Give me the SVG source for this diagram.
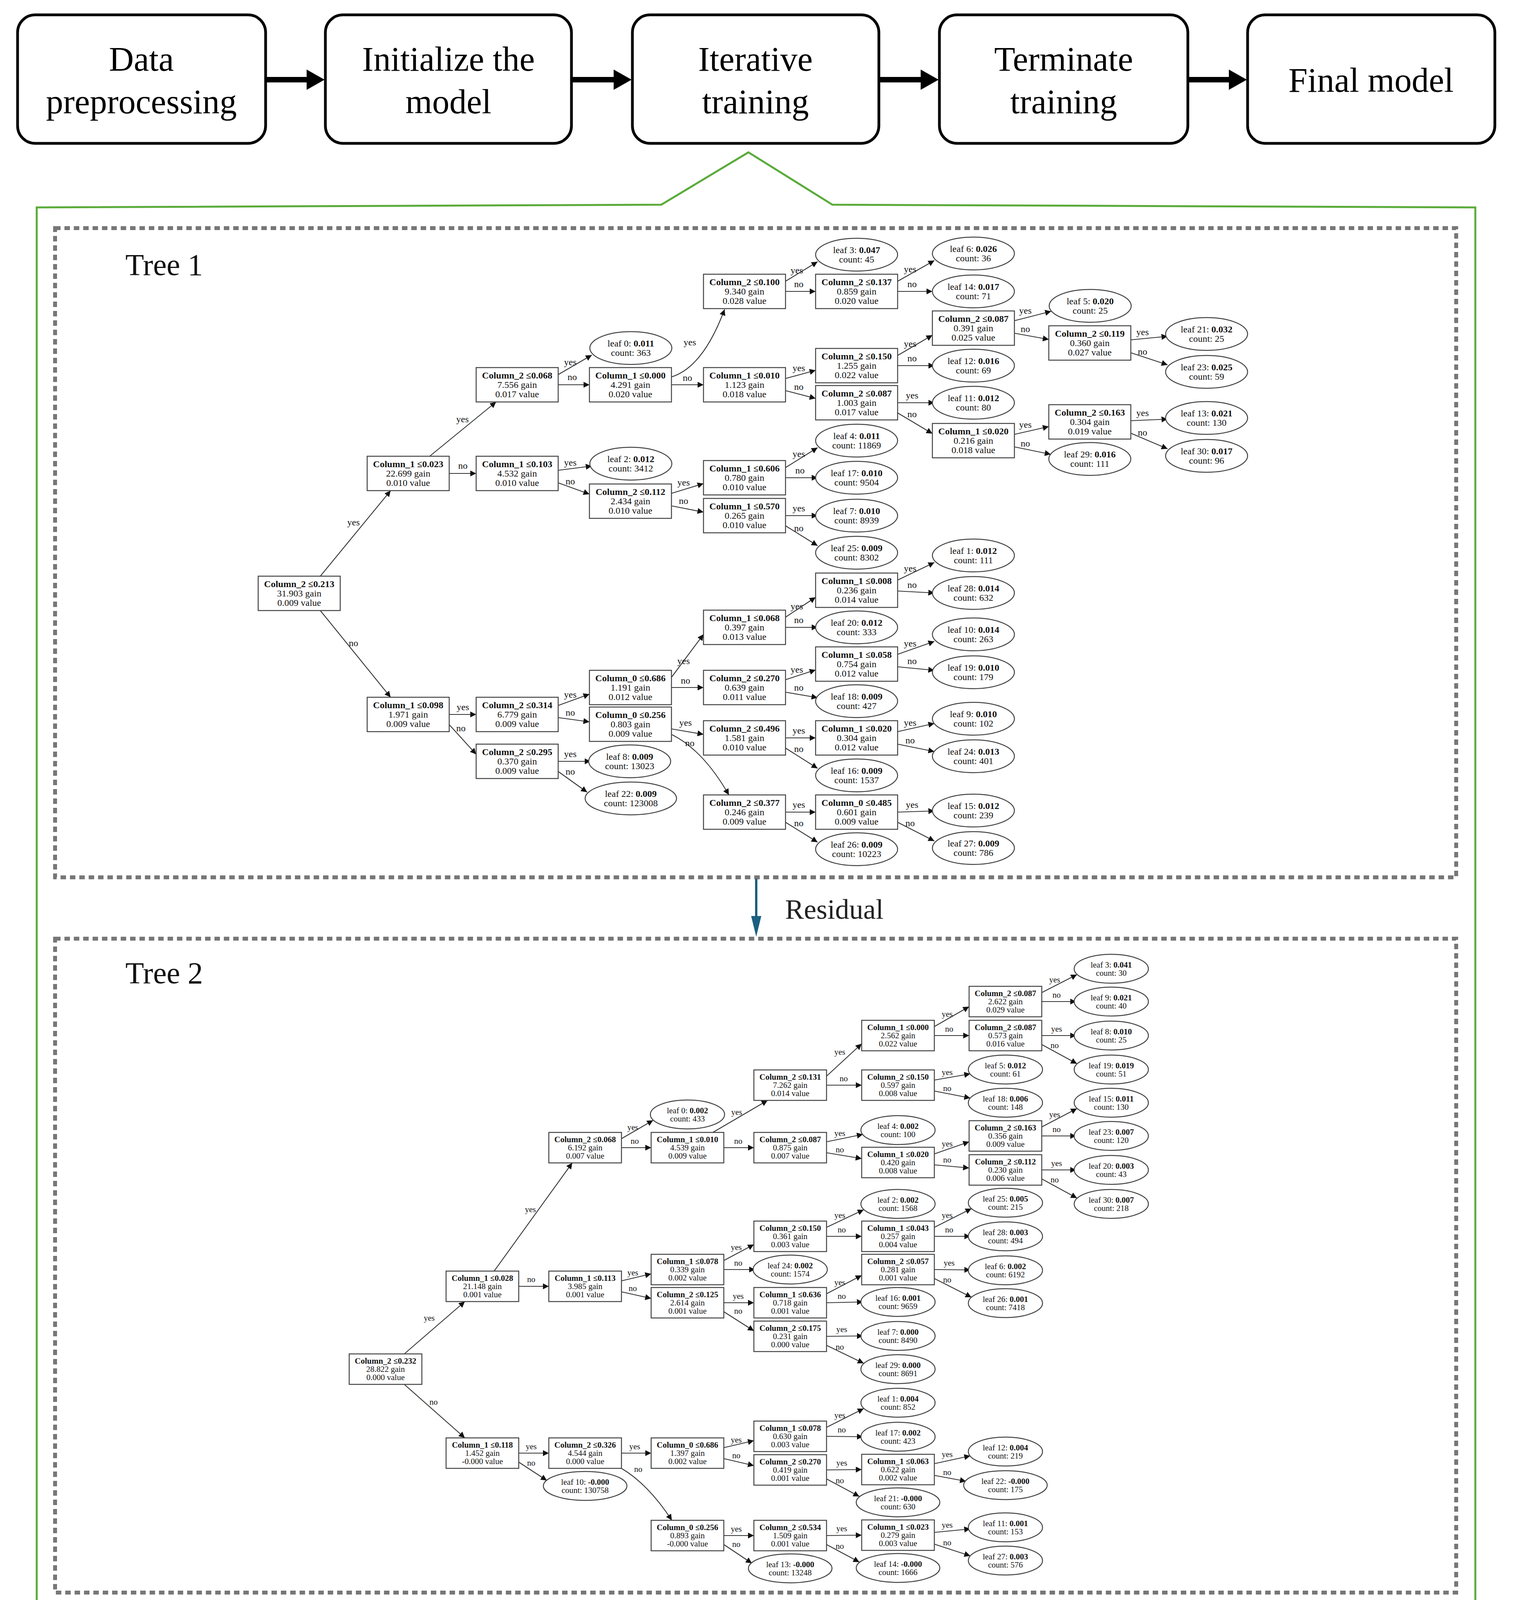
<svg xmlns="http://www.w3.org/2000/svg" xmlns:xlink="http://www.w3.org/1999/xlink" width="3876" height="6097" viewBox="0 0 3876 6097">
<style>
text{font-family:"Liberation Serif","Times New Roman",serif;text-anchor:middle;fill:#111}
.hd text{font-size:88px;fill:#000}
.ttl{font-size:78px;text-anchor:start}
.T1 text{font-size:24px}
.T2 text{font-size:21px}
.T3 text{font-size:26px}
.bd{font-weight:bold}
.hbox{fill:#fff;stroke:#000;stroke-width:7}
.dash{fill:none;stroke:#777;stroke-width:10;stroke-dasharray:14 10}
.cn path{fill:none;stroke:#333;stroke-width:2.2;marker-end:url(#ah)}
.nd{fill:#fff;stroke:#444;stroke-width:2.5}
</style>
<defs>
<marker id="ah" viewBox="0 0 10 10" refX="10" refY="5" markerWidth="7" markerHeight="7" orient="auto" markerUnits="strokeWidth"><path d="M0 0 L10 5 L0 10 Z" fill="#111"/></marker>
<rect id="B1" class="nd" x="-105" y="-44" width="210" height="88"/>
<ellipse id="E1" class="nd" rx="105" ry="42"/>
<ellipse id="E1w" class="nd" rx="117" ry="42"/>
<rect id="B2" class="nd" x="-93" y="-39" width="186" height="78"/>
<ellipse id="E2" class="nd" rx="95" ry="37"/>
<ellipse id="E2w" class="nd" rx="107" ry="37"/>
<rect id="B3" class="nd" x="-114" y="-48" width="228" height="96"/>
<ellipse id="E3" class="nd" rx="122" ry="48"/>
<ellipse id="E3w" class="nd" rx="128" ry="48"/>
</defs>
<rect width="3876" height="6097" fill="#fff"/>

<g class="hd">
<g id="h1"><rect class="hbox" x="45" y="38" width="635" height="329" rx="45"/><text x="362" y="181">Data</text><text x="362" y="290">preprocessing</text></g>
<g id="h2"><rect class="hbox" x="833" y="38" width="630" height="329" rx="45"/><text x="1148" y="181">Initialize the</text><text x="1148" y="290">model</text></g>
<g id="h3"><rect class="hbox" x="1619" y="38" width="631" height="329" rx="45"/><text x="1934" y="181">Iterative</text><text x="1934" y="290">training</text></g>
<g id="h4"><rect class="hbox" x="2405" y="38" width="636" height="329" rx="45"/><text x="2723" y="181">Terminate</text><text x="2723" y="290">training</text></g>
<g id="h5"><rect class="hbox" x="3194" y="38" width="633" height="329" rx="45"/><text x="3510" y="235">Final model</text></g>
</g>
<g id="harrows" fill="#000">
<path d="M683 197 H785 V178 L831 204 L785 230 V211 H683 Z"/>
<path d="M1466 197 H1571 V178 L1617 204 L1571 230 V211 H1466 Z"/>
<path d="M2253 197 H2357 V178 L2403 204 L2357 230 V211 H2253 Z"/>
<path d="M3044 197 H3146 V178 L3192 204 L3146 230 V211 H3044 Z"/>
</g>

<path id="callout" d="M94 531 L1693 524 L1916 390 L2131 524 L3777 531 L3777 6063 L94 6063 Z" fill="none" stroke="#5aab3a" stroke-width="5"/>

<rect class="dash" x="141" y="584" width="3587" height="1662"/>
<rect class="dash" x="141" y="2403" width="3587" height="1674"/>
<rect class="dash" x="141" y="4300" width="3587" height="1689"/>
<text class="ttl" x="321" y="704">Tree 1</text>
<text class="ttl" x="321" y="2517">Tree 2</text>
<text class="ttl" x="321" y="4415">Tree 1000</text>

<g id="residual">
<line x1="1936" y1="2250" x2="1936" y2="2348" stroke="#1c5f80" stroke-width="6"/>
<path d="M1923 2345 L1949 2345 L1936 2398 Z" fill="#1c5f80"/>
<text x="2010" y="2352" style="font-size:72px;text-anchor:start;fill:#222">Residual</text>
</g>
<g id="dots" fill="#000"><ellipse cx="1936" cy="4142" rx="7" ry="13"/><ellipse cx="1936" cy="4190" rx="7" ry="13"/><ellipse cx="1936" cy="4236" rx="7" ry="13"/></g>

<!-- TREE 1 connectors -->
<g id="t1-edges" class="cn T1">
<path d="M820 1475 L1000 1256"/><text x="905" y="1345">yes</text>
<path d="M820 1563 L1000 1785"/><text x="905" y="1654">no</text>
<path d="M1100 1168 L1270 1029"/><text x="1184" y="1081">yes</text>
<path d="M1150 1212 L1219 1212"/><text x="1185" y="1200">no</text>
<path d="M1429 959 L1515 909"/><text x="1460" y="935">yes</text>
<path d="M1429 985 L1509 985"/><text x="1465" y="973">no</text>
<path d="M1429 1204 L1515 1193"/><text x="1460" y="1192">yes</text>
<path d="M1429 1236 L1509 1265"/><text x="1460" y="1240">no</text>
<path d="M1719 965 Q1800 940 1855 792"/><text x="1766" y="884">yes</text>
<path d="M1719 985 L1801 985"/><text x="1760" y="975">no</text>
<path d="M1719 1263 L1801 1238"/><text x="1750" y="1243">yes</text>
<path d="M1719 1295 L1801 1311"/><text x="1750" y="1290">no</text>
<path d="M1150 1829 L1219 1829"/><text x="1185" y="1818">yes</text>
<path d="M1150 1855 L1219 1931"/><text x="1180" y="1872">no</text>
<path d="M1429 1806 L1509 1777"/><text x="1460" y="1786">yes</text>
<path d="M1429 1837 L1509 1848"/><text x="1460" y="1832">no</text>
<path d="M1429 1949 L1512 1949"/><text x="1460" y="1938">yes</text>
<path d="M1429 1975 L1503 2028"/><text x="1460" y="1983">no</text>
<path d="M2011 720 L2093 670"/><text x="2040" y="700">yes</text>
<path d="M2011 746 L2088 746"/><text x="2045" y="735">no</text>
<path d="M2011 969 L2088 948"/><text x="2045" y="950">yes</text>
<path d="M2011 1000 L2088 1020"/><text x="2045" y="998">no</text>
<path d="M2011 1197 L2093 1146"/><text x="2045" y="1170">yes</text>
<path d="M2011 1223 L2093 1223"/><text x="2048" y="1212">no</text>
<path d="M2011 1320 L2093 1320"/><text x="2045" y="1309">yes</text>
<path d="M2011 1346 L2093 1397"/><text x="2045" y="1360">no</text>
<path d="M1719 1734 L1801 1624"/><text x="1750" y="1700">yes</text>
<path d="M1719 1760 L1801 1760"/><text x="1755" y="1750">no</text>
<path d="M1719 1866 L1801 1880"/><text x="1755" y="1858">yes</text>
<path d="M1719 1880 Q1800 1920 1866 2035"/><text x="1766" y="1910">no</text>
<path d="M2298 720 L2392 667"/><text x="2330" y="697">yes</text>
<path d="M2298 746 L2387 746"/><text x="2335" y="735">no</text>
<path d="M2298 910 L2387 858"/><text x="2330" y="888">yes</text>
<path d="M2298 936 L2392 936"/><text x="2335" y="925">no</text>
<path d="M2298 1031 L2392 1031"/><text x="2335" y="1020">yes</text>
<path d="M2298 1057 L2387 1110"/><text x="2335" y="1068">no</text>
<path d="M2011 1580 L2088 1529"/><text x="2040" y="1560">yes</text>
<path d="M2011 1606 L2093 1606"/><text x="2045" y="1595">no</text>
<path d="M2011 1740 L2088 1715"/><text x="2040" y="1722">yes</text>
<path d="M2011 1772 L2093 1786"/><text x="2045" y="1768">no</text>
<path d="M2011 1889 L2088 1889"/><text x="2045" y="1878">yes</text>
<path d="M2011 1915 L2093 1967"/><text x="2045" y="1925">no</text>
<path d="M2011 2079 L2088 2079"/><text x="2045" y="2068">yes</text>
<path d="M2011 2105 L2093 2156"/><text x="2045" y="2115">no</text>
<path d="M2597 821 L2691 797"/><text x="2625" y="803">yes</text>
<path d="M2597 853 L2685 869"/><text x="2625" y="850">no</text>
<path d="M2597 1112 L2685 1092"/><text x="2625" y="1095">yes</text>
<path d="M2597 1144 L2690 1163"/><text x="2625" y="1143">no</text>
<path d="M2298 1485 L2392 1440"/><text x="2330" y="1463">yes</text>
<path d="M2298 1513 L2392 1518"/><text x="2335" y="1505">no</text>
<path d="M2298 1675 L2392 1642"/><text x="2330" y="1655">yes</text>
<path d="M2298 1707 L2392 1716"/><text x="2335" y="1700">no</text>
<path d="M2298 1873 L2392 1852"/><text x="2330" y="1858">yes</text>
<path d="M2298 1905 L2392 1924"/><text x="2330" y="1903">no</text>
<path d="M2298 2079 L2392 2076"/><text x="2335" y="2068">yes</text>
<path d="M2298 2105 L2392 2153"/><text x="2330" y="2115">no</text>
<path d="M2895 870 L2989 861"/><text x="2925" y="858">yes</text>
<path d="M2895 903 L2989 934"/><text x="2925" y="908">no</text>
<path d="M2895 1077 L2989 1073"/><text x="2925" y="1065">yes</text>
<path d="M2895 1109 L2989 1149"/><text x="2925" y="1115">no</text>
</g>

<!-- TREE 1 nodes -->
<g id="tree1" class="T1">
<g id="t1-r" transform="translate(766,1519)"><use href="#B1"/><text y="-16" class="bd">Column_2 ≤0.213</text><text y="8">31.903 gain</text><text y="32">0.009 value</text></g>
<g id="t1-a" transform="translate(1045,1212)"><use href="#B1"/><text y="-16" class="bd">Column_1 ≤0.023</text><text y="8">22.699 gain</text><text y="32">0.010 value</text></g>
<g id="t1-b" transform="translate(1324,985)"><use href="#B1"/><text y="-16" class="bd">Column_2 ≤0.068</text><text y="8">7.556 gain</text><text y="32">0.017 value</text></g>
<g id="t1-c" transform="translate(1614,985)"><use href="#B1"/><text y="-16" class="bd">Column_1 ≤0.000</text><text y="8">4.291 gain</text><text y="32">0.020 value</text></g>
<g id="t1-d" transform="translate(1324,1212)"><use href="#B1"/><text y="-16" class="bd">Column_1 ≤0.103</text><text y="8">4.532 gain</text><text y="32">0.010 value</text></g>
<g id="t1-e" transform="translate(1614,1283)"><use href="#B1"/><text y="-16" class="bd">Column_2 ≤0.112</text><text y="8">2.434 gain</text><text y="32">0.010 value</text></g>
<g id="t1-f" transform="translate(1045,1829)"><use href="#B1"/><text y="-16" class="bd">Column_1 ≤0.098</text><text y="8">1.971 gain</text><text y="32">0.009 value</text></g>
<g id="t1-g" transform="translate(1324,1829)"><use href="#B1"/><text y="-16" class="bd">Column_2 ≤0.314</text><text y="8">6.779 gain</text><text y="32">0.009 value</text></g>
<g id="t1-h" transform="translate(1324,1949)"><use href="#B1"/><text y="-16" class="bd">Column_2 ≤0.295</text><text y="8">0.370 gain</text><text y="32">0.009 value</text></g>
<g id="t1-i" transform="translate(1614,1760)"><use href="#B1"/><text y="-16" class="bd">Column_0 ≤0.686</text><text y="8">1.191 gain</text><text y="32">0.012 value</text></g>
<g id="t1-j" transform="translate(1614,1854)"><use href="#B1"/><text y="-16" class="bd">Column_0 ≤0.256</text><text y="8">0.803 gain</text><text y="32">0.009 value</text></g>
<g id="t1-k" transform="translate(1906,746)"><use href="#B1"/><text y="-16" class="bd">Column_2 ≤0.100</text><text y="8">9.340 gain</text><text y="32">0.028 value</text></g>
<g id="t1-l" transform="translate(2193,746)"><use href="#B1"/><text y="-16" class="bd">Column_2 ≤0.137</text><text y="8">0.859 gain</text><text y="32">0.020 value</text></g>
<g id="t1-m" transform="translate(2492,840)"><use href="#B1"/><text y="-16" class="bd">Column_2 ≤0.087</text><text y="8">0.391 gain</text><text y="32">0.025 value</text></g>
<g id="t1-n" transform="translate(1906,985)"><use href="#B1"/><text y="-16" class="bd">Column_1 ≤0.010</text><text y="8">1.123 gain</text><text y="32">0.018 value</text></g>
<g id="t1-o" transform="translate(2193,936)"><use href="#B1"/><text y="-16" class="bd">Column_2 ≤0.150</text><text y="8">1.255 gain</text><text y="32">0.022 value</text></g>
<g id="t1-p" transform="translate(2193,1031)"><use href="#B1"/><text y="-16" class="bd">Column_2 ≤0.087</text><text y="8">1.003 gain</text><text y="32">0.017 value</text></g>
<g id="t1-q" transform="translate(2492,1128)"><use href="#B1"/><text y="-16" class="bd">Column_1 ≤0.020</text><text y="8">0.216 gain</text><text y="32">0.018 value</text></g>
<g id="t1-s" transform="translate(1906,1223)"><use href="#B1"/><text y="-16" class="bd">Column_1 ≤0.606</text><text y="8">0.780 gain</text><text y="32">0.010 value</text></g>
<g id="t1-t" transform="translate(1906,1320)"><use href="#B1"/><text y="-16" class="bd">Column_1 ≤0.570</text><text y="8">0.265 gain</text><text y="32">0.010 value</text></g>
<g id="t1-u" transform="translate(2193,1511)"><use href="#B1"/><text y="-16" class="bd">Column_1 ≤0.008</text><text y="8">0.236 gain</text><text y="32">0.014 value</text></g>
<g id="t1-v" transform="translate(1906,1606)"><use href="#B1"/><text y="-16" class="bd">Column_1 ≤0.068</text><text y="8">0.397 gain</text><text y="32">0.013 value</text></g>
<g id="t1-w" transform="translate(2193,1700)"><use href="#B1"/><text y="-16" class="bd">Column_1 ≤0.058</text><text y="8">0.754 gain</text><text y="32">0.012 value</text></g>
<g id="t1-x" transform="translate(1906,1760)"><use href="#B1"/><text y="-16" class="bd">Column_2 ≤0.270</text><text y="8">0.639 gain</text><text y="32">0.011 value</text></g>
<g id="t1-y" transform="translate(1906,1889)"><use href="#B1"/><text y="-16" class="bd">Column_2 ≤0.496</text><text y="8">1.581 gain</text><text y="32">0.010 value</text></g>
<g id="t1-z" transform="translate(2193,1889)"><use href="#B1"/><text y="-16" class="bd">Column_1 ≤0.020</text><text y="8">0.304 gain</text><text y="32">0.012 value</text></g>
<g id="t1-A" transform="translate(1906,2079)"><use href="#B1"/><text y="-16" class="bd">Column_2 ≤0.377</text><text y="8">0.246 gain</text><text y="32">0.009 value</text></g>
<g id="t1-B" transform="translate(2193,2079)"><use href="#B1"/><text y="-16" class="bd">Column_0 ≤0.485</text><text y="8">0.601 gain</text><text y="32">0.009 value</text></g>
<g id="t1-C" transform="translate(2790,878)"><use href="#B1"/><text y="-16" class="bd">Column_2 ≤0.119</text><text y="8">0.360 gain</text><text y="32">0.027 value</text></g>
<g id="t1-D" transform="translate(2790,1080)"><use href="#B1"/><text y="-16" class="bd">Column_2 ≤0.163</text><text y="8">0.304 gain</text><text y="32">0.019 value</text></g>
<g id="t1-L0" transform="translate(1615,891)"><use href="#E1"/><text y="-4">leaf 0: <tspan class="bd">0.011</tspan></text><text y="20">count: 363</text></g>
<g id="t1-L2" transform="translate(1615,1187)"><use href="#E1"/><text y="-4">leaf 2: <tspan class="bd">0.012</tspan></text><text y="20">count: 3412</text></g>
<g id="t1-L8" transform="translate(1612,1949)"><use href="#E1"/><text y="-4">leaf 8: <tspan class="bd">0.009</tspan></text><text y="20">count: 13023</text></g>
<g id="t1-L22" transform="translate(1615,2044)"><use href="#E1w"/><text y="-4">leaf 22: <tspan class="bd">0.009</tspan></text><text y="20">count: 123008</text></g>
<g id="t1-L3" transform="translate(2193,652)"><use href="#E1"/><text y="-4">leaf 3: <tspan class="bd">0.047</tspan></text><text y="20">count: 45</text></g>
<g id="t1-L6" transform="translate(2492,649)"><use href="#E1"/><text y="-4">leaf 6: <tspan class="bd">0.026</tspan></text><text y="20">count: 36</text></g>
<g id="t1-L14" transform="translate(2492,746)"><use href="#E1"/><text y="-4">leaf 14: <tspan class="bd">0.017</tspan></text><text y="20">count: 71</text></g>
<g id="t1-L12" transform="translate(2492,936)"><use href="#E1"/><text y="-4">leaf 12: <tspan class="bd">0.016</tspan></text><text y="20">count: 69</text></g>
<g id="t1-L11" transform="translate(2492,1031)"><use href="#E1"/><text y="-4">leaf 11: <tspan class="bd">0.012</tspan></text><text y="20">count: 80</text></g>
<g id="t1-L4" transform="translate(2193,1128)"><use href="#E1"/><text y="-4">leaf 4: <tspan class="bd">0.011</tspan></text><text y="20">count: 11869</text></g>
<g id="t1-L17" transform="translate(2193,1223)"><use href="#E1"/><text y="-4">leaf 17: <tspan class="bd">0.010</tspan></text><text y="20">count: 9504</text></g>
<g id="t1-L7" transform="translate(2193,1320)"><use href="#E1"/><text y="-4">leaf 7: <tspan class="bd">0.010</tspan></text><text y="20">count: 8939</text></g>
<g id="t1-L25" transform="translate(2193,1415)"><use href="#E1"/><text y="-4">leaf 25: <tspan class="bd">0.009</tspan></text><text y="20">count: 8302</text></g>
<g id="t1-L1" transform="translate(2492,1422)"><use href="#E1"/><text y="-4">leaf 1: <tspan class="bd">0.012</tspan></text><text y="20">count: 111</text></g>
<g id="t1-L28" transform="translate(2492,1518)"><use href="#E1"/><text y="-4">leaf 28: <tspan class="bd">0.014</tspan></text><text y="20">count: 632</text></g>
<g id="t1-L20" transform="translate(2193,1606)"><use href="#E1"/><text y="-4">leaf 20: <tspan class="bd">0.012</tspan></text><text y="20">count: 333</text></g>
<g id="t1-L10" transform="translate(2492,1624)"><use href="#E1"/><text y="-4">leaf 10: <tspan class="bd">0.014</tspan></text><text y="20">count: 263</text></g>
<g id="t1-L19" transform="translate(2492,1721)"><use href="#E1"/><text y="-4">leaf 19: <tspan class="bd">0.010</tspan></text><text y="20">count: 179</text></g>
<g id="t1-L18" transform="translate(2193,1795)"><use href="#E1"/><text y="-4">leaf 18: <tspan class="bd">0.009</tspan></text><text y="20">count: 427</text></g>
<g id="t1-L9" transform="translate(2492,1840)"><use href="#E1"/><text y="-4">leaf 9: <tspan class="bd">0.010</tspan></text><text y="20">count: 102</text></g>
<g id="t1-L24" transform="translate(2492,1936)"><use href="#E1"/><text y="-4">leaf 24: <tspan class="bd">0.013</tspan></text><text y="20">count: 401</text></g>
<g id="t1-L16" transform="translate(2193,1985)"><use href="#E1"/><text y="-4">leaf 16: <tspan class="bd">0.009</tspan></text><text y="20">count: 1537</text></g>
<g id="t1-L26" transform="translate(2193,2174)"><use href="#E1"/><text y="-4">leaf 26: <tspan class="bd">0.009</tspan></text><text y="20">count: 10223</text></g>
<g id="t1-L15" transform="translate(2492,2075)"><use href="#E1"/><text y="-4">leaf 15: <tspan class="bd">0.012</tspan></text><text y="20">count: 239</text></g>
<g id="t1-L27" transform="translate(2492,2171)"><use href="#E1"/><text y="-4">leaf 27: <tspan class="bd">0.009</tspan></text><text y="20">count: 786</text></g>
<g id="t1-L5" transform="translate(2791,783)"><use href="#E1"/><text y="-4">leaf 5: <tspan class="bd">0.020</tspan></text><text y="20">count: 25</text></g>
<g id="t1-L21" transform="translate(3089,855)"><use href="#E1"/><text y="-4">leaf 21: <tspan class="bd">0.032</tspan></text><text y="20">count: 25</text></g>
<g id="t1-L23" transform="translate(3089,952)"><use href="#E1"/><text y="-4">leaf 23: <tspan class="bd">0.025</tspan></text><text y="20">count: 59</text></g>
<g id="t1-L13" transform="translate(3089,1070)"><use href="#E1"/><text y="-4">leaf 13: <tspan class="bd">0.021</tspan></text><text y="20">count: 130</text></g>
<g id="t1-L29" transform="translate(2790,1175)"><use href="#E1"/><text y="-4">leaf 29: <tspan class="bd">0.016</tspan></text><text y="20">count: 111</text></g>
<g id="t1-L30" transform="translate(3089,1167)"><use href="#E1"/><text y="-4">leaf 30: <tspan class="bd">0.017</tspan></text><text y="20">count: 96</text></g>
</g>

<!-- TREE 2 connectors -->
<g id="t2-edges" class="cn T2">
<path d="M1035 3466 L1190 3332"/><text x="1099" y="3381">yes</text>
<path d="M1035 3544 L1190 3681"/><text x="1110" y="3596">no</text>
<path d="M1265 3254 L1465 2977"/><text x="1358" y="3103">yes</text>
<path d="M1328 3293 L1405 3293"/><text x="1360" y="3282">no</text>
<path d="M1591 2915 L1672 2868"/><text x="1620" y="2893">yes</text>
<path d="M1591 2938 L1667 2938"/><text x="1625" y="2928">no</text>
<path d="M1825 2899 L1965 2817"/><text x="1886" y="2854">yes</text>
<path d="M1853 2938 L1930 2938"/><text x="1890" y="2928">no</text>
<path d="M2116 2755 L2206 2672"/><text x="2150" y="2700">yes</text>
<path d="M2116 2778 L2206 2778"/><text x="2160" y="2768">no</text>
<path d="M2116 2923 L2209 2904"/><text x="2150" y="2908">yes</text>
<path d="M2116 2951 L2206 2966"/><text x="2150" y="2950">no</text>
<path d="M1591 3279 L1667 3261"/><text x="1620" y="3265">yes</text>
<path d="M1591 3307 L1667 3324"/><text x="1620" y="3305">no</text>
<path d="M1853 3227 L1930 3186"/><text x="1885" y="3200">yes</text>
<path d="M1853 3250 L1933 3250"/><text x="1890" y="3240">no</text>
<path d="M1853 3335 L1930 3335"/><text x="1890" y="3325">yes</text>
<path d="M1853 3358 L1930 3407"/><text x="1890" y="3363">no</text>
<path d="M1328 3720 L1405 3720"/><text x="1360" y="3710">yes</text>
<path d="M1328 3743 L1400 3790"/><text x="1360" y="3752">no</text>
<path d="M1591 3720 L1667 3720"/><text x="1625" y="3710">yes</text>
<path d="M1591 3759 Q1660 3800 1720 3892"/><text x="1634" y="3768">no</text>
<path d="M1853 3706 L1930 3688"/><text x="1885" y="3693">yes</text>
<path d="M1853 3734 L1930 3752"/><text x="1885" y="3733">no</text>
<path d="M1853 3931 L1930 3931"/><text x="1885" y="3921">yes</text>
<path d="M1853 3954 L1925 4002"/><text x="1885" y="3960">no</text>
<path d="M2392 2628 L2481 2577"/><text x="2425" y="2603">yes</text>
<path d="M2392 2651 L2481 2651"/><text x="2430" y="2641">no</text>
<path d="M2667 2541 L2757 2495"/><text x="2700" y="2515">yes</text>
<path d="M2667 2564 L2755 2564"/><text x="2705" y="2554">no</text>
<path d="M2667 2651 L2755 2651"/><text x="2705" y="2641">yes</text>
<path d="M2667 2674 L2757 2723"/><text x="2700" y="2683">no</text>
<path d="M2392 2765 L2484 2749"/><text x="2425" y="2752">yes</text>
<path d="M2392 2793 L2484 2811"/><text x="2425" y="2793">no</text>
<path d="M2392 2954 L2481 2923"/><text x="2425" y="2935">yes</text>
<path d="M2392 2982 L2481 2990"/><text x="2425" y="2976">no</text>
<path d="M2667 2885 L2757 2838"/><text x="2700" y="2860">yes</text>
<path d="M2667 2908 L2755 2908"/><text x="2705" y="2898">no</text>
<path d="M2667 2995 L2755 2995"/><text x="2705" y="2985">yes</text>
<path d="M2667 3018 L2757 3067"/><text x="2700" y="3027">no</text>
<path d="M2116 3142 L2211 3097"/><text x="2150" y="3118">yes</text>
<path d="M2116 3165 L2206 3165"/><text x="2155" y="3155">no</text>
<path d="M2392 3142 L2487 3094"/><text x="2425" y="3118">yes</text>
<path d="M2392 3165 L2484 3165"/><text x="2430" y="3155">no</text>
<path d="M2116 3312 L2206 3265"/><text x="2150" y="3290">yes</text>
<path d="M2116 3335 L2209 3333"/><text x="2155" y="3325">no</text>
<path d="M2392 3250 L2484 3251"/><text x="2430" y="3240">yes</text>
<path d="M2392 3273 L2487 3321"/><text x="2425" y="3283">no</text>
<path d="M2116 3421 L2209 3420"/><text x="2155" y="3410">yes</text>
<path d="M2116 3444 L2211 3490"/><text x="2150" y="3455">no</text>
<path d="M2116 3654 L2211 3606"/><text x="2150" y="3630">yes</text>
<path d="M2116 3677 L2209 3678"/><text x="2155" y="3667">no</text>
<path d="M2116 3763 L2206 3762"/><text x="2155" y="3752">yes</text>
<path d="M2116 3786 L2200 3831"/><text x="2150" y="3797">no</text>
<path d="M2116 3931 L2206 3930"/><text x="2155" y="3920">yes</text>
<path d="M2116 3954 L2200 3999"/><text x="2150" y="3965">no</text>
<path d="M2392 3747 L2484 3727"/><text x="2425" y="3730">yes</text>
<path d="M2392 3777 L2473 3792"/><text x="2425" y="3776">no</text>
<path d="M2392 3923 L2484 3914"/><text x="2425" y="3911">yes</text>
<path d="M2392 3953 L2484 3983"/><text x="2425" y="3956">no</text>
</g>

<!-- TREE 2 nodes -->
<g id="tree2" class="T2">
<g id="t2-r" transform="translate(987,3505)"><use href="#B2"/><text y="-14" class="bd">Column_2 ≤0.232</text><text y="7">28.822 gain</text><text y="28">0.000 value</text></g>
<g id="t2-a" transform="translate(1235,3293)"><use href="#B2"/><text y="-14" class="bd">Column_1 ≤0.028</text><text y="7">21.148 gain</text><text y="28">0.001 value</text></g>
<g id="t2-b" transform="translate(1498,2938)"><use href="#B2"/><text y="-14" class="bd">Column_2 ≤0.068</text><text y="7">6.192 gain</text><text y="28">0.007 value</text></g>
<g id="t2-c" transform="translate(1760,2938)"><use href="#B2"/><text y="-14" class="bd">Column_1 ≤0.010</text><text y="7">4.539 gain</text><text y="28">0.009 value</text></g>
<g id="t2-d" transform="translate(2023,2778)"><use href="#B2"/><text y="-14" class="bd">Column_2 ≤0.131</text><text y="7">7.262 gain</text><text y="28">0.014 value</text></g>
<g id="t2-e" transform="translate(2023,2938)"><use href="#B2"/><text y="-14" class="bd">Column_2 ≤0.087</text><text y="7">0.875 gain</text><text y="28">0.007 value</text></g>
<g id="t2-f" transform="translate(1498,3293)"><use href="#B2"/><text y="-14" class="bd">Column_1 ≤0.113</text><text y="7">3.985 gain</text><text y="28">0.001 value</text></g>
<g id="t2-g" transform="translate(1760,3250)"><use href="#B2"/><text y="-14" class="bd">Column_1 ≤0.078</text><text y="7">0.339 gain</text><text y="28">0.002 value</text></g>
<g id="t2-h" transform="translate(1760,3335)"><use href="#B2"/><text y="-14" class="bd">Column_2 ≤0.125</text><text y="7">2.614 gain</text><text y="28">0.001 value</text></g>
<g id="t2-i" transform="translate(2023,3165)"><use href="#B2"/><text y="-14" class="bd">Column_2 ≤0.150</text><text y="7">0.361 gain</text><text y="28">0.003 value</text></g>
<g id="t2-j" transform="translate(2023,3335)"><use href="#B2"/><text y="-14" class="bd">Column_1 ≤0.636</text><text y="7">0.718 gain</text><text y="28">0.001 value</text></g>
<g id="t2-k" transform="translate(2023,3421)"><use href="#B2"/><text y="-14" class="bd">Column_2 ≤0.175</text><text y="7">0.231 gain</text><text y="28">0.000 value</text></g>
<g id="t2-l" transform="translate(1235,3720)"><use href="#B2"/><text y="-14" class="bd">Column_1 ≤0.118</text><text y="7">1.452 gain</text><text y="28">-0.000 value</text></g>
<g id="t2-m" transform="translate(1498,3720)"><use href="#B2"/><text y="-14" class="bd">Column_2 ≤0.326</text><text y="7">4.544 gain</text><text y="28">0.000 value</text></g>
<g id="t2-n" transform="translate(1760,3720)"><use href="#B2"/><text y="-14" class="bd">Column_0 ≤0.686</text><text y="7">1.397 gain</text><text y="28">0.002 value</text></g>
<g id="t2-o" transform="translate(2023,3677)"><use href="#B2"/><text y="-14" class="bd">Column_1 ≤0.078</text><text y="7">0.630 gain</text><text y="28">0.003 value</text></g>
<g id="t2-p" transform="translate(2023,3763)"><use href="#B2"/><text y="-14" class="bd">Column_2 ≤0.270</text><text y="7">0.419 gain</text><text y="28">0.001 value</text></g>
<g id="t2-q" transform="translate(1760,3931)"><use href="#B2"/><text y="-14" class="bd">Column_0 ≤0.256</text><text y="7">0.893 gain</text><text y="28">-0.000 value</text></g>
<g id="t2-s" transform="translate(2023,3931)"><use href="#B2"/><text y="-14" class="bd">Column_2 ≤0.534</text><text y="7">1.509 gain</text><text y="28">0.001 value</text></g>
<g id="t2-t" transform="translate(2299,2651)"><use href="#B2"/><text y="-14" class="bd">Column_1 ≤0.000</text><text y="7">2.562 gain</text><text y="28">0.022 value</text></g>
<g id="t2-u" transform="translate(2574,2564)"><use href="#B2"/><text y="-14" class="bd">Column_2 ≤0.087</text><text y="7">2.622 gain</text><text y="28">0.029 value</text></g>
<g id="t2-v" transform="translate(2574,2651)"><use href="#B2"/><text y="-14" class="bd">Column_2 ≤0.087</text><text y="7">0.573 gain</text><text y="28">0.016 value</text></g>
<g id="t2-w" transform="translate(2299,2778)"><use href="#B2"/><text y="-14" class="bd">Column_2 ≤0.150</text><text y="7">0.597 gain</text><text y="28">0.008 value</text></g>
<g id="t2-x" transform="translate(2299,2976)"><use href="#B2"/><text y="-14" class="bd">Column_1 ≤0.020</text><text y="7">0.420 gain</text><text y="28">0.008 value</text></g>
<g id="t2-y" transform="translate(2574,2908)"><use href="#B2"/><text y="-14" class="bd">Column_2 ≤0.163</text><text y="7">0.356 gain</text><text y="28">0.009 value</text></g>
<g id="t2-z" transform="translate(2574,2995)"><use href="#B2"/><text y="-14" class="bd">Column_2 ≤0.112</text><text y="7">0.230 gain</text><text y="28">0.006 value</text></g>
<g id="t2-A" transform="translate(2299,3165)"><use href="#B2"/><text y="-14" class="bd">Column_1 ≤0.043</text><text y="7">0.257 gain</text><text y="28">0.004 value</text></g>
<g id="t2-B" transform="translate(2299,3250)"><use href="#B2"/><text y="-14" class="bd">Column_2 ≤0.057</text><text y="7">0.281 gain</text><text y="28">0.001 value</text></g>
<g id="t2-C" transform="translate(2299,3762)"><use href="#B2"/><text y="-14" class="bd">Column_1 ≤0.063</text><text y="7">0.622 gain</text><text y="28">0.002 value</text></g>
<g id="t2-D" transform="translate(2299,3930)"><use href="#B2"/><text y="-14" class="bd">Column_1 ≤0.023</text><text y="7">0.279 gain</text><text y="28">0.003 value</text></g>
<g id="t2-L0" transform="translate(1760,2853)"><use href="#E2"/><text y="-3">leaf 0: <tspan class="bd">0.002</tspan></text><text y="18">count: 433</text></g>
<g id="t2-L24" transform="translate(2023,3250)"><use href="#E2"/><text y="-3">leaf 24: <tspan class="bd">0.002</tspan></text><text y="18">count: 1574</text></g>
<g id="t2-L10" transform="translate(1498,3804)"><use href="#E2w"/><text y="-3">leaf 10: <tspan class="bd">-0.000</tspan></text><text y="18">count: 130758</text></g>
<g id="t2-L13" transform="translate(2023,4015)"><use href="#E2w"/><text y="-3">leaf 13: <tspan class="bd">-0.000</tspan></text><text y="18">count: 13248</text></g>
<g id="t2-L3" transform="translate(2845,2480)"><use href="#E2"/><text y="-3">leaf 3: <tspan class="bd">0.041</tspan></text><text y="18">count: 30</text></g>
<g id="t2-L9" transform="translate(2845,2564)"><use href="#E2"/><text y="-3">leaf 9: <tspan class="bd">0.021</tspan></text><text y="18">count: 40</text></g>
<g id="t2-L8" transform="translate(2845,2651)"><use href="#E2"/><text y="-3">leaf 8: <tspan class="bd">0.010</tspan></text><text y="18">count: 25</text></g>
<g id="t2-L19" transform="translate(2845,2738)"><use href="#E2"/><text y="-3">leaf 19: <tspan class="bd">0.019</tspan></text><text y="18">count: 51</text></g>
<g id="t2-L5" transform="translate(2574,2738)"><use href="#E2"/><text y="-3">leaf 5: <tspan class="bd">0.012</tspan></text><text y="18">count: 61</text></g>
<g id="t2-L18" transform="translate(2574,2823)"><use href="#E2"/><text y="-3">leaf 18: <tspan class="bd">0.006</tspan></text><text y="18">count: 148</text></g>
<g id="t2-L4" transform="translate(2299,2893)"><use href="#E2"/><text y="-3">leaf 4: <tspan class="bd">0.002</tspan></text><text y="18">count: 100</text></g>
<g id="t2-L15" transform="translate(2845,2823)"><use href="#E2"/><text y="-3">leaf 15: <tspan class="bd">0.011</tspan></text><text y="18">count: 130</text></g>
<g id="t2-L23" transform="translate(2845,2908)"><use href="#E2"/><text y="-3">leaf 23: <tspan class="bd">0.007</tspan></text><text y="18">count: 120</text></g>
<g id="t2-L20" transform="translate(2845,2995)"><use href="#E2"/><text y="-3">leaf 20: <tspan class="bd">0.003</tspan></text><text y="18">count: 43</text></g>
<g id="t2-L30" transform="translate(2845,3082)"><use href="#E2"/><text y="-3">leaf 30: <tspan class="bd">0.007</tspan></text><text y="18">count: 218</text></g>
<g id="t2-L2" transform="translate(2299,3082)"><use href="#E2"/><text y="-3">leaf 2: <tspan class="bd">0.002</tspan></text><text y="18">count: 1568</text></g>
<g id="t2-L25" transform="translate(2574,3079)"><use href="#E2"/><text y="-3">leaf 25: <tspan class="bd">0.005</tspan></text><text y="18">count: 215</text></g>
<g id="t2-L28" transform="translate(2574,3165)"><use href="#E2"/><text y="-3">leaf 28: <tspan class="bd">0.003</tspan></text><text y="18">count: 494</text></g>
<g id="t2-L6" transform="translate(2574,3252)"><use href="#E2"/><text y="-3">leaf 6: <tspan class="bd">0.002</tspan></text><text y="18">count: 6192</text></g>
<g id="t2-L26" transform="translate(2574,3336)"><use href="#E2"/><text y="-3">leaf 26: <tspan class="bd">0.001</tspan></text><text y="18">count: 7418</text></g>
<g id="t2-L16" transform="translate(2299,3333)"><use href="#E2"/><text y="-3">leaf 16: <tspan class="bd">0.001</tspan></text><text y="18">count: 9659</text></g>
<g id="t2-L7" transform="translate(2299,3420)"><use href="#E2"/><text y="-3">leaf 7: <tspan class="bd">0.000</tspan></text><text y="18">count: 8490</text></g>
<g id="t2-L29" transform="translate(2299,3505)"><use href="#E2"/><text y="-3">leaf 29: <tspan class="bd">0.000</tspan></text><text y="18">count: 8691</text></g>
<g id="t2-L1" transform="translate(2299,3591)"><use href="#E2"/><text y="-3">leaf 1: <tspan class="bd">0.004</tspan></text><text y="18">count: 852</text></g>
<g id="t2-L17" transform="translate(2299,3678)"><use href="#E2"/><text y="-3">leaf 17: <tspan class="bd">0.002</tspan></text><text y="18">count: 423</text></g>
<g id="t2-L12" transform="translate(2574,3716)"><use href="#E2"/><text y="-3">leaf 12: <tspan class="bd">0.004</tspan></text><text y="18">count: 219</text></g>
<g id="t2-L22" transform="translate(2574,3802)"><use href="#E2w"/><text y="-3">leaf 22: <tspan class="bd">-0.000</tspan></text><text y="18">count: 175</text></g>
<g id="t2-L21" transform="translate(2299,3846)"><use href="#E2w"/><text y="-3">leaf 21: <tspan class="bd">-0.000</tspan></text><text y="18">count: 630</text></g>
<g id="t2-L11" transform="translate(2574,3910)"><use href="#E2"/><text y="-3">leaf 11: <tspan class="bd">0.001</tspan></text><text y="18">count: 153</text></g>
<g id="t2-L27" transform="translate(2574,3995)"><use href="#E2"/><text y="-3">leaf 27: <tspan class="bd">0.003</tspan></text><text y="18">count: 576</text></g>
<g id="t2-L14" transform="translate(2299,4014)"><use href="#E2w"/><text y="-3">leaf 14: <tspan class="bd">-0.000</tspan></text><text y="18">count: 1666</text></g>
</g>

<!-- TREE 1000 connectors -->
<g id="t3-edges" class="cn T3">
<path d="M417 5213 L507 5172"/><text x="455" y="5176">yes</text>
<path d="M417 5246 L497 5253"/><text x="455" y="5228">no</text>
<path d="M702 5105 L853 5005"/><text x="786" y="5030">yes</text>
<path d="M735 5180 Q800 5230 872 5293"/><text x="786" y="5207">no</text>
<path d="M980 4909 L1197 4650"/><text x="1087" y="4757">yes</text>
<path d="M1052 4957 L1127 4957"/><text x="1088" y="4945">no</text>
<path d="M1052 5341 L1127 5341"/><text x="1088" y="5328">yes</text>
<path d="M995 5389 L1185 5571"/><text x="1087" y="5456">no</text>
<path d="M1355 4574 L1436 4523"/><text x="1385" y="4540">yes</text>
<path d="M1355 4602 L1440 4602"/><text x="1395" y="4590">no</text>
<path d="M1355 4929 L1440 4880"/><text x="1385" y="4895">yes</text>
<path d="M1355 4985 L1440 5030"/><text x="1385" y="4985">no</text>
<path d="M1355 5326 L1436 5307"/><text x="1390" y="5308">yes</text>
<path d="M1355 5361 L1440 5386"/><text x="1390" y="5360">no</text>
<path d="M1355 5619 L1440 5619"/><text x="1390" y="5606">yes</text>
<path d="M1355 5647 L1436 5703"/><text x="1390" y="5656">no</text>
<path d="M1668 4574 L1763 4518"/><text x="1700" y="4540">yes</text>
<path d="M1668 4602 L1763 4602"/><text x="1710" y="4590">no</text>
<path d="M1650 4813 L1786 4754"/><text x="1712" y="4765">yes</text>
<path d="M1668 4861 L1767 4861"/><text x="1710" y="4849">no</text>
<path d="M1668 5049 L1767 5049"/><text x="1710" y="5036">yes</text>
<path d="M1650 5097 L1785 5150"/><text x="1712" y="5102">no</text>
<path d="M1668 5388 L1763 5370"/><text x="1705" y="5366">yes</text>
<path d="M1668 5423 L1767 5452"/><text x="1705" y="5422">no</text>
<path d="M1668 5619 L1767 5619"/><text x="1710" y="5606">yes</text>
<path d="M1668 5647 L1763 5703"/><text x="1705" y="5656">no</text>
<path d="M1995 4678 L2100 4593"/><text x="2040" y="4625">yes</text>
<path d="M1995 4697 L2100 4686"/><text x="2045" y="4680">no</text>
<path d="M1995 4836 L2100 4803"/><text x="2040" y="4810">yes</text>
<path d="M1995 4871 L2100 4883"/><text x="2045" y="4865">no</text>
<path d="M1995 5030 L2104 5006"/><text x="2045" y="5008">yes</text>
<path d="M1995 5064 L2104 5084"/><text x="2045" y="5062">no</text>
<path d="M1995 5198 L2100 5200"/><text x="2045" y="5186">yes</text>
<path d="M1995 5226 L2104 5286"/><text x="2045" y="5232">no</text>
<path d="M1995 5447 L2100 5423"/><text x="2040" y="5425">yes</text>
<path d="M1995 5482 L2100 5501"/><text x="2045" y="5478">no</text>
<path d="M1995 5619 L2104 5619"/><text x="2045" y="5606">yes</text>
<path d="M1995 5647 L2100 5703"/><text x="2045" y="5655">no</text>
<path d="M2332 4964 L2438 4901"/><text x="2370" y="4925">yes</text>
<path d="M2332 4990 L2438 4987"/><text x="2375" y="4978">no</text>
<path d="M2332 5094 L2438 5092"/><text x="2375" y="5082">yes</text>
<path d="M2332 5123 L2450 5180"/><text x="2380" y="5130">no</text>
<path d="M2332 5305 L2438 5305"/><text x="2375" y="5292">yes</text>
<path d="M2332 5333 L2442 5391"/><text x="2375" y="5340">no</text>
<path d="M2332 5619 L2442 5619"/><text x="2385" y="5606">yes</text>
<path d="M2332 5647 L2442 5705"/><text x="2380" y="5655">no</text>
<path d="M2670 5382 L2778 5324"/><text x="2715" y="5340">yes</text>
<path d="M2670 5410 L2778 5410"/><text x="2720" y="5398">no</text>
<path d="M2670 5591 L2774 5532"/><text x="2710" y="5550">yes</text>
<path d="M2670 5619 L2774 5619"/><text x="2720" y="5606">no</text>
<path d="M2670 5723 L2774 5722"/><text x="2720" y="5711">yes</text>
<path d="M2670 5752 L2774 5810"/><text x="2710" y="5762">no</text>
<path d="M3006 5277 L3112 5219"/><text x="3045" y="5240">yes</text>
<path d="M3006 5305 L3116 5305"/><text x="3060" y="5292">no</text>
<path d="M3006 5410 L3112 5408"/><text x="3055" y="5397">yes</text>
<path d="M3006 5438 L3116 5494"/><text x="3050" y="5447">no</text>
<path d="M3344 5280 L3450 5245"/><text x="3385" y="5252">yes</text>
<path d="M3344 5314 L3450 5325"/><text x="3390" y="5306">no</text>
<path d="M3344 5496 L3450 5475"/><text x="3385" y="5475">yes</text>
<path d="M3344 5531 L3450 5554"/><text x="3390" y="5528">no</text>
</g>

<!-- TREE 1000 nodes -->
<g id="tree1000" class="T3">
<g id="t3-r" transform="translate(303,5241)"><use href="#B3"/><text y="-18" class="bd">Column_2 ≤0.169</text><text y="9">0.000 gain</text><text y="36">0.000 value</text></g>
<g id="t3-a" transform="translate(621,5153)"><use href="#B3"/><text y="-18" class="bd">Column_1 ≤0.430</text><text y="9">0.000 gain</text><text y="36">-0.000 value</text></g>
<g id="t3-b" transform="translate(938,4957)"><use href="#B3"/><text y="-18" class="bd">Column_2 ≤0.163</text><text y="9">0.000 gain</text><text y="36">0.000 value</text></g>
<g id="t3-c" transform="translate(938,5341)"><use href="#B3"/><text y="-18" class="bd">Column_2 ≤0.144</text><text y="9">0.000 gain</text><text y="36">-0.000 value</text></g>
<g id="t3-d" transform="translate(1241,4602)"><use href="#B3"/><text y="-18" class="bd">Column_0 ≤0.440</text><text y="9">0.000 gain</text><text y="36">0.000 value</text></g>
<g id="t3-e" transform="translate(1241,4957)"><use href="#B3"/><text y="-18" class="bd">Column_1 ≤0.043</text><text y="9">0.000 gain</text><text y="36">0.000 value</text></g>
<g id="t3-f" transform="translate(1554,4602)"><use href="#B3"/><text y="-18" class="bd">Column_1 ≤0.000</text><text y="9">0.000 gain</text><text y="36">0.000 value</text></g>
<g id="t3-g" transform="translate(1554,4861)"><use href="#B3"/><text y="-18" class="bd">Column_1 ≤0.020</text><text y="9">0.000 gain</text><text y="36">0.000 value</text></g>
<g id="t3-h" transform="translate(1554,5049)"><use href="#B3"/><text y="-18" class="bd">Column_1 ≤0.093</text><text y="9">0.000 gain</text><text y="36">0.000 value</text></g>
<g id="t3-i" transform="translate(1881,4706)"><use href="#B3"/><text y="-18" class="bd">Column_0 ≤0.735</text><text y="9">0.000 gain</text><text y="36">-0.000 value</text></g>
<g id="t3-j" transform="translate(1881,4861)"><use href="#B3"/><text y="-18" class="bd">Column_0 ≤0.637</text><text y="9">0.000 gain</text><text y="36">0.000 value</text></g>
<g id="t3-k" transform="translate(1881,5049)"><use href="#B3"/><text y="-18" class="bd">Column_0 ≤0.539</text><text y="9">0.000 gain</text><text y="36">-0.000 value</text></g>
<g id="t3-l" transform="translate(1881,5198)"><use href="#B3"/><text y="-18" class="bd">Column_0 ≤0.148</text><text y="9">0.000 gain</text><text y="36">0.000 value</text></g>
<g id="t3-m" transform="translate(1241,5341)"><use href="#B3"/><text y="-18" class="bd">Column_0 ≤0.686</text><text y="9">0.000 gain</text><text y="36">0.000 value</text></g>
<g id="t3-n" transform="translate(1554,5401)"><use href="#B3"/><text y="-18" class="bd">Column_2 ≤0.032</text><text y="9">0.000 gain</text><text y="36">-0.000 value</text></g>
<g id="t3-o" transform="translate(1881,5466)"><use href="#B3"/><text y="-18" class="bd">Column_1 ≤0.751</text><text y="9">0.000 gain</text><text y="36">-0.000 value</text></g>
<g id="t3-p" transform="translate(1241,5619)"><use href="#B3"/><text y="-18" class="bd">Column_1 ≤0.852</text><text y="9">0.000 gain</text><text y="36">-0.000 value</text></g>
<g id="t3-q" transform="translate(1554,5619)"><use href="#B3"/><text y="-18" class="bd">Column_0 ≤0.735</text><text y="9">0.000 gain</text><text y="36">-0.000 value</text></g>
<g id="t3-s" transform="translate(1881,5619)"><use href="#B3"/><text y="-18" class="bd">Column_0 ≤0.393</text><text y="9">0.000 gain</text><text y="36">-0.000 value</text></g>
<g id="t3-t" transform="translate(2218,4992)"><use href="#B3"/><text y="-18" class="bd">Column_1 ≤0.068</text><text y="9">0.000 gain</text><text y="36">-0.000 value</text></g>
<g id="t3-u" transform="translate(2218,5095)"><use href="#B3"/><text y="-18" class="bd">Column_1 ≤0.063</text><text y="9">0.000 gain</text><text y="36">-0.000 value</text></g>
<g id="t3-v" transform="translate(2218,5305)"><use href="#B3"/><text y="-18" class="bd">Column_0 ≤0.256</text><text y="9">0.000 gain</text><text y="36">0.000 value</text></g>
<g id="t3-w" transform="translate(2556,5410)"><use href="#B3"/><text y="-18" class="bd">Column_0 ≤0.539</text><text y="9">0.000 gain</text><text y="36">0.000 value</text></g>
<g id="t3-x" transform="translate(2892,5305)"><use href="#B3"/><text y="-18" class="bd">Column_1 ≤0.128</text><text y="9">0.000 gain</text><text y="36">0.000 value</text></g>
<g id="t3-y" transform="translate(2892,5410)"><use href="#B3"/><text y="-18" class="bd">Column_1 ≤0.123</text><text y="9">0.000 gain</text><text y="36">0.000 value</text></g>
<g id="t3-z" transform="translate(3230,5305)"><use href="#B3"/><text y="-18" class="bd">Column_1 ≤0.166</text><text y="9">0.000 gain</text><text y="36">0.000 value</text></g>
<g id="t3-A" transform="translate(3230,5513)"><use href="#B3"/><text y="-18" class="bd">Column_1 ≤0.209</text><text y="9">0.000 gain</text><text y="36">0.000 value</text></g>
<g id="t3-B" transform="translate(2218,5619)"><use href="#B3"/><text y="-18" class="bd">Column_0 ≤0.148</text><text y="9">0.000 gain</text><text y="36">-0.000 value</text></g>
<g id="t3-C" transform="translate(2556,5619)"><use href="#B3"/><text y="-18" class="bd">Column_1 ≤0.786</text><text y="9">0.000 gain</text><text y="36">-0.000 value</text></g>
<g id="t3-D" transform="translate(2556,5724)"><use href="#B3"/><text y="-18" class="bd">Column_1 ≤0.666</text><text y="9">0.000 gain</text><text y="36">0.000 value</text></g>
<g id="t3-L1" transform="translate(621,5255)"><use href="#E3w"/><text y="-4">leaf 1: <tspan class="bd">0.000</tspan></text><text y="22">count: 158625</text></g>
<g id="t3-L0" transform="translate(1554,4504)"><use href="#E3"/><text y="-4">leaf 0: <tspan class="bd">-0.000</tspan></text><text y="22">count: 4329</text></g>
<g id="t3-L29" transform="translate(1881,4499)"><use href="#E3"/><text y="-4">leaf 29: <tspan class="bd">-0.000</tspan></text><text y="22">count: 129</text></g>
<g id="t3-L30" transform="translate(1881,4602)"><use href="#E3"/><text y="-4">leaf 30: <tspan class="bd">0.000</tspan></text><text y="22">count: 9866</text></g>
<g id="t3-L2" transform="translate(1554,5296)"><use href="#E3"/><text y="-4">leaf 2: <tspan class="bd">0.000</tspan></text><text y="22">count: 9082</text></g>
<g id="t3-L21" transform="translate(1881,5362)"><use href="#E3"/><text y="-4">leaf 21: <tspan class="bd">0.000</tspan></text><text y="22">count: 1882</text></g>
<g id="t3-L4" transform="translate(1554,5722)"><use href="#E3"/><text y="-4">leaf 4: <tspan class="bd">0.000</tspan></text><text y="22">count: 1017</text></g>
<g id="t3-L24" transform="translate(1881,5722)"><use href="#E3"/><text y="-4">leaf 24: <tspan class="bd">-0.000</tspan></text><text y="22">count: 1231</text></g>
<g id="t3-L5" transform="translate(2218,4574)"><use href="#E3"/><text y="-4">leaf 5: <tspan class="bd">-0.000</tspan></text><text y="22">count: 24</text></g>
<g id="t3-L12" transform="translate(2218,4679)"><use href="#E3"/><text y="-4">leaf 12: <tspan class="bd">0.000</tspan></text><text y="22">count: 24</text></g>
<g id="t3-L7" transform="translate(2218,4784)"><use href="#E3"/><text y="-4">leaf 7: <tspan class="bd">0.000</tspan></text><text y="22">count: 25</text></g>
<g id="t3-L8" transform="translate(2218,4890)"><use href="#E3"/><text y="-4">leaf 8: <tspan class="bd">-0.000</tspan></text><text y="22">count: 25</text></g>
<g id="t3-L6" transform="translate(2556,4882)"><use href="#E3"/><text y="-4">leaf 6: <tspan class="bd">-0.000</tspan></text><text y="22">count: 24</text></g>
<g id="t3-L13" transform="translate(2556,4987)"><use href="#E3"/><text y="-4">leaf 13: <tspan class="bd">-0.000</tspan></text><text y="22">count: 23</text></g>
<g id="t3-L10" transform="translate(2556,5092)"><use href="#E3"/><text y="-4">leaf 10: <tspan class="bd">-0.000</tspan></text><text y="22">count: 29</text></g>
<g id="t3-L11" transform="translate(2556,5200)"><use href="#E3"/><text y="-4">leaf 11: <tspan class="bd">0.000</tspan></text><text y="22">count: 38</text></g>
<g id="t3-L9" transform="translate(2218,5200)"><use href="#E3"/><text y="-4">leaf 9: <tspan class="bd">0.000</tspan></text><text y="22">count: 34</text></g>
<g id="t3-L14" transform="translate(2556,5305)"><use href="#E3"/><text y="-4">leaf 14: <tspan class="bd">-0.000</tspan></text><text y="22">count: 40</text></g>
<g id="t3-L15" transform="translate(3230,5200)"><use href="#E3"/><text y="-4">leaf 15: <tspan class="bd">0.000</tspan></text><text y="22">count: 22</text></g>
<g id="t3-L18" transform="translate(3568,5226)"><use href="#E3"/><text y="-4">leaf 18: <tspan class="bd">-0.000</tspan></text><text y="22">count: 22</text></g>
<g id="t3-L19" transform="translate(3568,5332)"><use href="#E3"/><text y="-4">leaf 19: <tspan class="bd">0.000</tspan></text><text y="22">count: 152</text></g>
<g id="t3-L16" transform="translate(3230,5408)"><use href="#E3"/><text y="-4">leaf 16: <tspan class="bd">-0.000</tspan></text><text y="22">count: 41</text></g>
<g id="t3-L17" transform="translate(3568,5463)"><use href="#E3"/><text y="-4">leaf 17: <tspan class="bd">0.000</tspan></text><text y="22">count: 136</text></g>
<g id="t3-L20" transform="translate(3568,5568)"><use href="#E3"/><text y="-4">leaf 20: <tspan class="bd">0.000</tspan></text><text y="22">count: 314</text></g>
<g id="t3-L22" transform="translate(2218,5408)"><use href="#E3"/><text y="-4">leaf 22: <tspan class="bd">-0.000</tspan></text><text y="22">count: 3087</text></g>
<g id="t3-L23" transform="translate(2218,5513)"><use href="#E3"/><text y="-4">leaf 23: <tspan class="bd">0.000</tspan></text><text y="22">count: 2457</text></g>
<g id="t3-L25" transform="translate(2218,5722)"><use href="#E3"/><text y="-4">leaf 25: <tspan class="bd">-0.000</tspan></text><text y="22">count: 1043</text></g>
<g id="t3-L3" transform="translate(2892,5513)"><use href="#E3"/><text y="-4">leaf 3: <tspan class="bd">-0.000</tspan></text><text y="22">count: 169</text></g>
<g id="t3-L27" transform="translate(2892,5619)"><use href="#E3"/><text y="-4">leaf 27: <tspan class="bd">0.000</tspan></text><text y="22">count: 34</text></g>
<g id="t3-L26" transform="translate(2892,5722)"><use href="#E3"/><text y="-4">leaf 26: <tspan class="bd">0.000</tspan></text><text y="22">count: 265</text></g>
<g id="t3-L28" transform="translate(2892,5829)"><use href="#E3"/><text y="-4">leaf 28: <tspan class="bd">-0.000</tspan></text><text y="22">count: 211</text></g>
</g>
</svg>
